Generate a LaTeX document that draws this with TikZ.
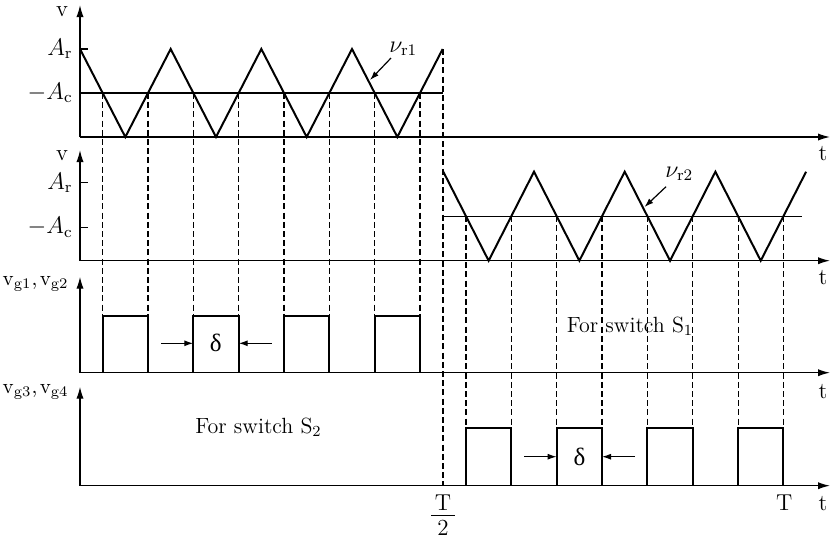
\documentclass[tikz,border=0pt]{standalone}
\usepackage{fontspec}
\newfontfamily\grk{Liberation Serif}
\usetikzlibrary{arrows.meta}
\begin{document}
\begin{tikzpicture}[x=0.5pt,y=-0.5pt,
  axis/.style={line width=0.65pt,-{Latex[length=6pt,width=3.6pt]}},
  wave/.style={line width=1pt,line join=miter},
  guide/.style={line width=0.55pt,dash pattern=on 3pt off 1.6pt},
  lvl/.style={line width=0.65pt},
  dimarrow/.style={line width=0.6pt,-{Latex[length=4.5pt,width=3pt]}},
  lbl/.style={inner sep=0pt,font=\fontsize{11.5}{13}\selectfont}]
\useasboundingbox (0,0) rectangle (830,538);

% origins of the four panels
\coordinate (o1) at (80,137);
\coordinate (o2) at (80,260.7);
\coordinate (o3) at (80,372.7);
\coordinate (o4) at (80,485.7);
\coordinate (y1) at (80,5);
\coordinate (y2) at (80,150);
\coordinate (y3) at (80,276.7);
\coordinate (y4) at (80,386.7);
\coordinate (x1) at (830,137);
\coordinate (x2) at (830,260.7);
\coordinate (x3) at (830,372.7);
\coordinate (x4) at (830,485.7);

% axes
\draw[axis] (o1) -- (y1);
\draw[axis] (o2) -- (y2);
\draw[axis] (o3) -- (y3);
\draw[axis] (o4) -- (y4);
\draw[axis] (o1) -- (x1);
\draw[axis] (o2) -- (x2);
\draw[axis] (o3) -- (x3);
\draw[axis] (o4) -- (x4);

% ticks
\draw[lvl] (80,49) -- (88,49);
\draw[lvl] (80,182.3) -- (88,182.3);
\draw[lvl] (80,227.3) -- (88,227.3);

% levels
\draw[lvl] (80,93) -- (443,93);
\draw[lvl] (443.3,216.2) -- (802,216.2);

% dashed guides
\foreach \x in {102.67,148,193.33,238.67,284,329.33,374.67,420}
  \draw[guide] (\x,93) -- (\x,315.7);
\draw[guide] (443,49) -- (443,485.7);
\foreach \x in {465.98,511.3,556.7,602.0,647.4,692.7,738.1,783.4}
  \draw[guide] (\x,216.2) -- (\x,428.3);

% carrier 1
\draw[wave] (80,49) -- (125.33,137) -- (170.67,49) -- (216,137) -- (261.33,49)
  -- (306.67,137) -- (352,49) -- (397.33,137) -- (442.67,49);
% carrier 2
\draw[wave] (443.3,171.7) -- (488.65,260.7) -- (534,171.7) -- (579.35,260.7) -- (624.7,171.7)
  -- (670.05,260.7) -- (715.4,171.7) -- (760.75,260.7) -- (806.1,171.7);

% pulses S1
\foreach \a/\b in {102.67/148,193.33/238.67,284/329.33,374.67/420}
  \draw[wave] (\a,372.7) -- (\a,315.7) -- (\b,315.7) -- (\b,372.7);
% pulses S2
\foreach \a/\b in {465.98/511.3,556.7/602.0,647.4/692.7,738.1/783.4}
  \draw[wave] (\a,485.7) -- (\a,428.3) -- (\b,428.3) -- (\b,485.7);

% delta markers
\draw[dimarrow] (161,343.3) -- (193.3,343.3);
\draw[dimarrow] (271.7,343.3) -- (238.7,343.3);
\node[lbl,font=\fontsize{12.5}{14}\selectfont\grk] (d1) at (215.8,343.3) {δ};
\draw[dimarrow] (524.3,456.7) -- (556.7,456.7);
\draw[dimarrow] (635,456.7) -- (602,456.7);
\node[lbl,font=\fontsize{12.5}{14}\selectfont\grk] (d2) at (579.5,456.7) {δ};

% carrier labels
\node[lbl,anchor=base west] (nr1) at (389,52) {$\nu_{\mathrm{r1}}$};
\draw[dimarrow] (391,58) -- (370,80);
\node[lbl,anchor=base west] (nr2) at (665,177) {$\nu_{\mathrm{r2}}$};
\draw[dimarrow] (666,186.7) -- (644.5,207);

% axis labels
\node[lbl,anchor=base] (v1) at (62,16) {v};
\node[lbl,anchor=base east] (ar1) at (73,55) {$A_{\mathrm{r}}$};
\node[lbl,anchor=base east] (ac1) at (73,99) {$-A_{\mathrm{c}}$};
\node[lbl,anchor=base] (v2) at (62,160) {v};
\node[lbl,anchor=base east] (ar2) at (73,189) {$A_{\mathrm{r}}$};
\node[lbl,anchor=base east] (ac2) at (73,233.5) {$-A_{\mathrm{c}}$};
\node[lbl,anchor=base east,font=\fontsize{10.5}{12}\selectfont] (vg12) at (69,285) {v\textsubscript{g1},\hspace{1.2pt}v\textsubscript{g2}};
\node[lbl,anchor=base east,font=\fontsize{10.5}{12}\selectfont] (vg34) at (69,393) {v\textsubscript{g3},\hspace{1.2pt}v\textsubscript{g4}};

\node[lbl,anchor=base] (t1) at (823,160) {t};
\node[lbl,anchor=base] (t2) at (823,284) {t};
\node[lbl,anchor=base] (t3) at (823,398) {t};
\node[lbl,anchor=base] (t4) at (823,510) {t};

\node[lbl,anchor=base west,font=\fontsize{11}{13}\selectfont] (s1) at (566.5,332) {For switch S\textsubscript{1}};
\node[lbl,anchor=base west,font=\fontsize{11}{13}\selectfont] (s2) at (195,433.5) {For switch S\textsubscript{2}};

% T/2
\node[lbl,anchor=base] (thT) at (443,510) {T};
\node[lbl,anchor=base] (th2) at (443,535) {2};
\draw[line width=0.6pt] (431,515.5) -- (455,515.5);
\node[lbl,anchor=base] (tT) at (784.3,510) {T};
\end{tikzpicture}
\end{document}
